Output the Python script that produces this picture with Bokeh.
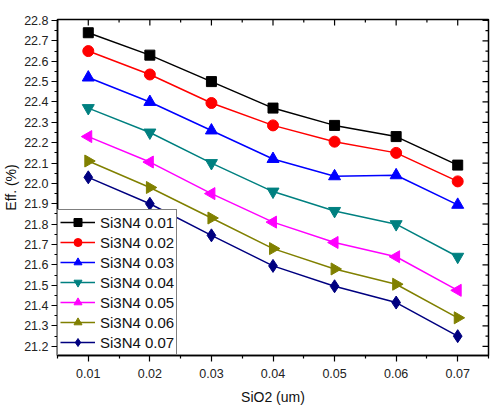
from bokeh.plotting import figure
from bokeh.models import FixedTicker, PrintfTickFormatter, Legend, Range1d
from bokeh.embed import file_html
from bokeh.resources import INLINE

# SiO2 thickness (um)
sio2 = [0.01, 0.02, 0.03, 0.04, 0.05, 0.06, 0.07]

# Efficiency (%) for each Si3N4 thickness
eff_001 = [22.74, 22.63, 22.50, 22.37, 22.285, 22.23, 22.09]
eff_002 = [22.65, 22.535, 22.395, 22.285, 22.205, 22.15, 22.01]
eff_003 = [22.52, 22.40, 22.26, 22.12, 22.035, 22.04, 21.895]
eff_004 = [22.37, 22.25, 22.10, 21.96, 21.865, 21.80, 21.64]
eff_005 = [22.23, 22.105, 21.95, 21.81, 21.71, 21.64, 21.475]
eff_006 = [22.11, 21.98, 21.83, 21.68, 21.58, 21.505, 21.34]
eff_007 = [22.03, 21.90, 21.745, 21.595, 21.495, 21.415, 21.25]

labels = ["Si3N4 0.01", "Si3N4 0.02", "Si3N4 0.03", "Si3N4 0.04",
          "Si3N4 0.05", "Si3N4 0.06", "Si3N4 0.07"]
series = [eff_001, eff_002, eff_003, eff_004, eff_005, eff_006, eff_007]

x_major = [0.01, 0.02, 0.03, 0.04, 0.05, 0.06, 0.07]
x_minor = [0.005, 0.015, 0.025, 0.035, 0.045, 0.055, 0.065, 0.075]
y_major = [round(21.2 + 0.1 * i, 1) for i in range(17)]
y_minor = [round(21.15 + 0.1 * i, 2) for i in range(18)]

colors = ["#000000", "#FF0000", "#0000FF", "#008080", "#FF00FF", "#808000", "#000080"]
markers = ["square", "circle", "triangle", "inverted_triangle",
           "triangle", "triangle", "diamond"]
angles = [0, 0, 0, 0, 1.5708, -1.5708, 0]
sizes = [10, 11, 12, 12, 12, 12, 13]

FONT = "Liberation Sans"

x_lo, x_hi = 0.005, 0.075
y_lo, y_hi = 21.155, 22.805

p = figure(width=490, height=407, output_backend="svg", toolbar_location=None,
           x_range=Range1d(x_lo, x_hi), y_range=Range1d(y_lo, y_hi),
           x_axis_label="SiO2 (um)", y_axis_label="Eff. (%)",
           min_border_left=53, min_border_right=2, min_border_top=19,
           min_border_bottom=50)
p.grid.visible = False
p.outline_line_color = "black"
p.outline_line_width = 1.5
p.background_fill_color = "white"
p.border_fill_color = "white"

for ax, ticks, minors, fmt in ((p.xaxis[0], x_major, x_minor, "%.2f"),
                               (p.yaxis[0], y_major, y_minor, "%.1f")):
    ax.ticker = FixedTicker(ticks=ticks, minor_ticks=minors)
    ax.formatter = PrintfTickFormatter(format=fmt)
    ax.major_tick_out = 6
    ax.major_tick_in = 0
    ax.minor_tick_out = 3
    ax.minor_tick_in = 0
    ax.major_label_text_font = FONT
    ax.major_label_text_font_size = "12.5px"
    ax.major_label_text_color = "#222222"
    ax.axis_label_text_font = FONT
    ax.axis_label_text_font_size = "14px"
    ax.axis_label_text_font_style = "normal"
    ax.axis_label_text_color = "#111111"
    ax.axis_line_width = 1.5
    ax.major_tick_line_width = 1.2
    ax.minor_tick_line_width = 1.2
p.xaxis[0].major_label_standoff = 7
p.xaxis[0].axis_label_standoff = 8
p.yaxis[0].major_label_standoff = 3
p.yaxis[0].axis_label_standoff = 2

# mirrored inward ticks on the top and right edges (dashes centred on the
# frame edge; the outer half is clipped by the frame)
p.scatter(x_major, [y_hi] * len(x_major), marker="dash", angle=1.5708,
          size=12, line_color="black", line_width=1.2)
p.scatter(x_minor, [y_hi] * len(x_minor), marker="dash", angle=1.5708,
          size=6, line_color="black", line_width=1.2)
p.scatter([x_hi] * len(y_major), y_major, marker="dash",
          size=12, line_color="black", line_width=1.2)
p.scatter([x_hi] * len(y_minor), y_minor, marker="dash",
          size=6, line_color="black", line_width=1.2)

items = []
for lab, ys, c, m, a, s in zip(labels, series, colors, markers, angles, sizes):
    r1 = p.line(sio2, ys, line_color=c, line_width=1.5)
    r2 = p.scatter(sio2, ys, marker=m, angle=a, size=s, fill_color=c, line_color=c)
    items.append((lab, [r1, r2]))

legend = Legend(items=items, location=(0, 0), orientation="vertical")
legend.label_text_font = FONT
legend.label_text_font_size = "15px"
legend.label_text_color = "#111111"
legend.glyph_width = 35
legend.glyph_height = 20
legend.label_height = 20
legend.label_standoff = 5
legend.padding = 2
legend.spacing = 0
legend.margin = 0
legend.border_line_color = "black"
legend.border_line_width = 1.5
legend.background_fill_color = "white"
legend.background_fill_alpha = 1.0
p.add_layout(legend, "center")

open("out.html", "w").write(file_html(p, INLINE))
